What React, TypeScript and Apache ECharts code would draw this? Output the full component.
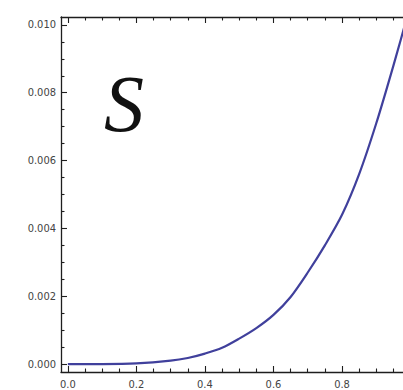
import React, { useEffect, useRef } from "react";
import * as echarts from "echarts";

// Sampled curve S(x)
const xValues = [0, 0.1, 0.2, 0.3, 0.35, 0.4, 0.45, 0.5, 0.55, 0.6, 0.65, 0.7, 0.75, 0.8, 0.85, 0.9, 0.95, 1.0];
const sValues = [0, 0.000001, 0.00002, 0.0001, 0.00018, 0.00031, 0.00048, 0.00075, 0.00106, 0.00145, 0.00198, 0.0027, 0.0035, 0.0044, 0.0056, 0.0071, 0.0088, 0.0106];

// Frame ticks
const xMajorTicks = [0, 0.2, 0.4, 0.6, 0.8, 1.0];
const xMinorTicks = [0.05, 0.1, 0.15, 0.25, 0.3, 0.35, 0.45, 0.5, 0.55, 0.65, 0.7, 0.75, 0.85, 0.9, 0.95];
const yMajorTicks = [0, 0.002, 0.004, 0.006, 0.008, 0.01];
const yMinorTicks = [0.0005, 0.001, 0.0015, 0.0025, 0.003, 0.0035, 0.0045, 0.005, 0.0055, 0.0065, 0.007, 0.0075, 0.0085, 0.009, 0.0095];

const X_MIN = -0.02;
const X_MAX = 1.02;
const Y_MIN = -0.000233;
const Y_MAX = 0.010233;

const CHART_W = 430;
const CHART_H = 390;

const FRAME = "#1e1e1e";
const LABEL_FONT = "DejaVu Sans Condensed, Liberation Sans Narrow, DejaVu Sans, sans-serif";

function xAxisDef(position: "bottom" | "top", ticks: number[], len: number, showLine: boolean, showLabels: boolean) {
  return {
    type: "value",
    position,
    min: X_MIN,
    max: X_MAX,
    axisLine: { show: showLine, onZero: false, lineStyle: { color: FRAME, width: 1.3 } },
    axisTick: {
      show: true,
      inside: true,
      length: len,
      customValues: ticks,
      lineStyle: { color: FRAME, width: 1.1 },
    },
    axisLabel: {
      show: showLabels,
      customValues: ticks,
      margin: 7,
      color: "#444",
      fontSize: 11,
      fontFamily: LABEL_FONT,
      formatter: (v: number) => v.toFixed(1),
    },
    splitLine: { show: false },
  };
}

function yAxisDef(ticks: number[], len: number, showLine: boolean, showLabels: boolean) {
  return {
    type: "value",
    position: "left",
    min: Y_MIN,
    max: Y_MAX,
    axisLine: { show: showLine, onZero: false, lineStyle: { color: FRAME, width: 1.3 } },
    axisTick: {
      show: true,
      inside: true,
      length: len,
      customValues: ticks,
      lineStyle: { color: FRAME, width: 1.1 },
    },
    axisLabel: {
      show: showLabels,
      customValues: ticks,
      margin: 5,
      color: "#444",
      fontSize: 11,
      fontFamily: LABEL_FONT,
      formatter: (v: number) => v.toFixed(3),
    },
    splitLine: { show: false },
  };
}

export default function App() {
  const ref = useRef<HTMLDivElement>(null);

  useEffect(() => {
    if (!ref.current) return;
    const chart = echarts.init(ref.current, null, { renderer: "svg" });
    chart.setOption({
      animation: false,
      backgroundColor: "#ffffff",
      title: {
        text: "S",
        left: 104,
        top: 64,
        padding: 0,
        textStyle: {
          fontFamily: "Liberation Serif",
          fontStyle: "italic",
          fontWeight: "normal",
          fontSize: 80,
          color: "#111",
        },
      },
      // frame spans x 61..417 and y 17..376; the right edge falls outside the view
      grid: { left: 61, top: 17, right: CHART_W - 417.4, bottom: CHART_H - 376, containLabel: false },
      xAxis: [
        xAxisDef("bottom", xMajorTicks, 6, true, true),
        xAxisDef("bottom", xMinorTicks, 3.5, false, false),
        xAxisDef("top", xMajorTicks, 6, true, false),
        xAxisDef("top", xMinorTicks, 3.5, false, false),
      ],
      yAxis: [
        yAxisDef(yMajorTicks, 6, true, true),
        yAxisDef(yMinorTicks, 3.5, false, false),
      ],
      series: [
        {
          type: "line",
          xAxisIndex: 0,
          yAxisIndex: 0,
          data: xValues.map((x, i) => [x, sValues[i]]),
          smooth: 0.3,
          showSymbol: false,
          symbol: "none",
          lineStyle: { color: "#40409c", width: 2.2 },
          clip: true,
        },
      ],
    });
    return () => chart.dispose();
  }, []);

  return (
    <div style={{ position: "fixed", left: 0, top: 0, width: 403, height: 390, overflow: "hidden", background: "#fff" }}>
      <div ref={ref} style={{ width: CHART_W, height: CHART_H }} />
    </div>
  );
}
